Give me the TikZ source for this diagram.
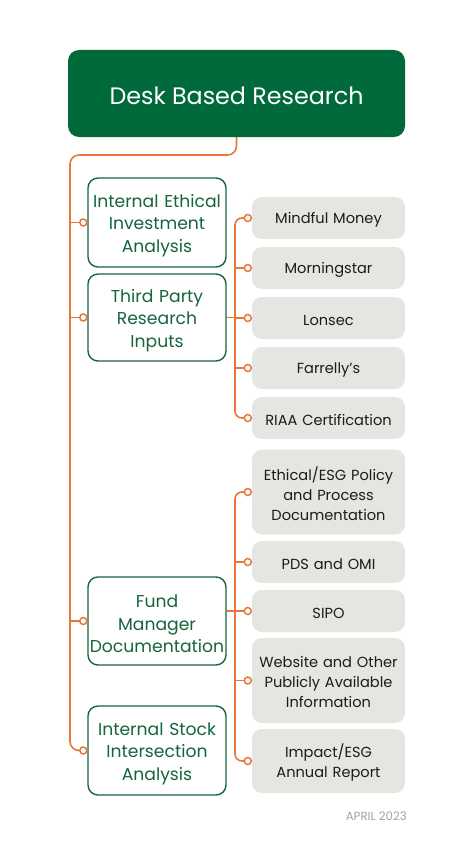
\documentclass[tikz,border=0pt]{standalone}
\usepackage{fontspec}
\setmainfont{Poppins}
\definecolor{dgreen}{HTML}{006A3B}
\definecolor{tgreen}{HTML}{17643E}
\definecolor{orng}{HTML}{E9773A}
\definecolor{lgray}{HTML}{E3E6E1}
\definecolor{txt}{HTML}{1C1C1C}
\definecolor{dategray}{HTML}{A2A2A2}
\begin{document}
\begin{tikzpicture}[x=1pt,y=-1pt,
  topbox/.style={fill=dgreen, rounded corners=11pt, minimum width=337pt, minimum height=87pt},
  toptxt/.style={text=white, font=\fontsize{23.8}{28}\selectfont, yshift=-2pt},
  catbox/.style={draw=tgreen, line width=1.4pt, fill=white, rounded corners=10pt, minimum width=138pt, inner sep=0pt},
  cattxt/.style={text width=136pt, align=center, text=tgreen, inner sep=0pt, font=\fontsize{17.2}{22.5}\selectfont, yshift=-3pt},
  itembox/.style={fill=lgray, rounded corners=10pt, minimum width=153pt, inner sep=0pt},
  itemtxt/.style={text width=150pt, align=center, text=txt, inner sep=0pt, font=\fontsize{14.6}{20}\selectfont, yshift=-2pt},
  conn/.style={draw=orng, line width=1.6pt},
  dot/.style={circle, draw=orng, fill=white, line width=1.5pt, minimum size=7pt, inner sep=0pt}
]
\useasboundingbox (0,0) rectangle (474,859);

\node[topbox, label={[toptxt]center:Desk Based Research}] (top) at (236.5,93.5) {};

\node[catbox, minimum height=89pt, label={[cattxt]center:{Internal Ethical\\Investment\\Analysis}}] (ie) at (157,222.5) {};
\node[catbox, minimum height=87pt, label={[cattxt]center:{Third Party\\Research\\Inputs}}] (tp) at (157,317.5) {};
\node[catbox, minimum height=88pt, label={[cattxt]center:{Fund\\Manager\\Documentation}}] (fm) at (157,621) {};
\node[catbox, minimum height=89pt, label={[cattxt]center:{Internal Stock\\Intersection\\Analysis}}] (is) at (157,750.5) {};

\node[itembox, minimum height=42pt, label={[itemtxt]center:Mindful Money}] (mm) at (328.5,218) {};
\node[itembox, minimum height=42pt, label={[itemtxt]center:Morningstar}] (ms) at (328.5,268) {};
\node[itembox, minimum height=42pt, label={[itemtxt]center:Lonsec}] (lo) at (328.5,318) {};
\node[itembox, minimum height=42pt, label={[itemtxt]center:Farrelly's}] (fa) at (328.5,368) {};
\node[itembox, minimum height=42pt, label={[itemtxt]center:RIAA Certification}] (ri) at (328.5,418) {};

\node[itembox, minimum height=85pt, label={[itemtxt]center:{Ethical/ESG Policy\\and Process\\Documentation}}] (ep) at (328.5,492) {};
\node[itembox, minimum height=42pt, label={[itemtxt]center:PDS and OMI}] (pd) at (328.5,562) {};
\node[itembox, minimum height=42pt, label={[itemtxt]center:SIPO}] (si) at (328.5,611) {};
\node[itembox, minimum height=85pt, label={[itemtxt]center:{Website and Other\\Publicly Available\\Information}}] (wb) at (328.5,680.5) {};
\node[itembox, minimum height=64pt, label={[itemtxt]center:{Impact/ESG\\Annual Report}}] (im) at (328.5,761) {};

\node[anchor=east, text=dategray, font=\fontsize{11.8}{13}\selectfont, inner sep=0pt] (date) at (407,816) {APRIL 2023};

% circle positions
\foreach \n in {ie,tp,fm,is,mm,ms,lo,fa,ri,ep,pd,si,wb,im}
  \coordinate (c\n) at ([xshift=-4pt]\n.west);

\coordinate (t1) at (70,0);
\coordinate (t2) at (235,0);

% main trunk
\draw[conn, rounded corners=9pt] (top.south) |- (t1 |- 0,155) |- (cis);
\foreach \n in {ie,tp,fm}
  \draw[conn] (t1 |- c\n) -- (c\n);

% third party branch
\draw[conn, rounded corners=7pt] (cmm) -- (t2 |- cmm) -- (t2 |- cri) -- (cri);
\foreach \n in {ms,lo,fa}
  \draw[conn] (t2 |- c\n) -- (c\n);
\draw[conn] (tp.east) -- (t2 |- tp.east);

% fund manager branch
\draw[conn, rounded corners=7pt] (cep) -- (t2 |- cep) -- (t2 |- cim) -- (cim);
\foreach \n in {pd,si,wb}
  \draw[conn] (t2 |- c\n) -- (c\n);
\draw[conn] (fm.east |- csi) -- (t2 |- csi);

\foreach \n in {ie,tp,fm,is,mm,ms,lo,fa,ri,ep,pd,si,wb,im}
  \node[dot] (d\n) at (c\n) {};
\end{tikzpicture}
\end{document}
